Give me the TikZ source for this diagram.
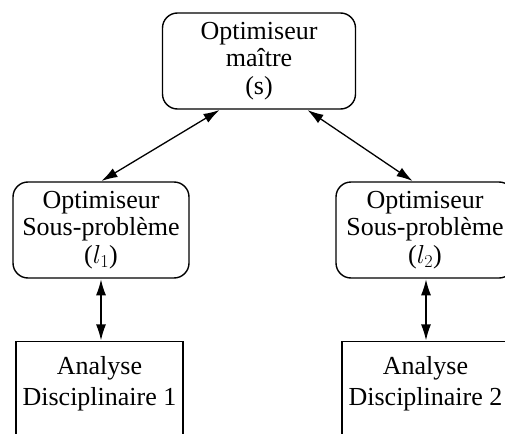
\RequirePackage{fix-cm}
\documentclass[tikz,border=0pt]{standalone}
\usepackage{fontspec}
\setmainfont{Liberation Serif}
\usetikzlibrary{arrows.meta}
\tikzset{
  optbox/.style={draw, line width=1.4pt, rounded corners=15pt, align=center, inner sep=0pt},
  anabox/.style={draw, line width=1.4pt, inner sep=0pt},
  txt/.style={align=center, inner sep=0pt},
  biarrow/.style={line width=1.3pt, {Latex[length=16pt,width=10pt]}-{Latex[length=16pt,width=10pt]}, shorten <=0.6pt, shorten >=0.6pt},
}
\begin{document}
\begin{tikzpicture}[x=1pt,y=-1pt, font=\fontsize{26}{27.5}\selectfont]
\useasboundingbox (0,0) rectangle (505,433);
\clip (0,0) rectangle (505,433);
\node[optbox, minimum width=193pt, minimum height=96pt] (top) at (259,61) {Optimiseur\\maître\\(s)};
\node[optbox, minimum width=176pt, minimum height=96pt] (m1) at (101,230) {Optimiseur\\Sous-problème\\($l_1$)};
\node[optbox, minimum width=178pt, minimum height=96pt] (m2) at (425,230) {Optimiseur\\Sous-problème\\($l_2$)};
\node[anabox, minimum width=167pt, minimum height=120pt, anchor=north] (a1) at (99.5,341) {};
\node[anabox, minimum width=167pt, minimum height=120pt, anchor=north] (a2) at (425.5,341) {};
\node[txt, anchor=north] (a1t) at ([yshift=-15pt]a1.north) {Analyse\\[3.5pt]Disciplinaire 1};
\node[txt, anchor=north] (a2t) at ([yshift=-15pt]a2.north) {Analyse\\[3.5pt]Disciplinaire 2};
\draw[biarrow] (m1.north) -- ([xshift=-39pt]top.south);
\draw[biarrow] ([xshift=48pt]top.south) -- ([xshift=-12pt]m2.north);
\draw[biarrow] (m1.south) -- (m1.south |- a1.north);
\draw[biarrow] ([xshift=1pt]m2.south) -- ([xshift=1pt]m2.south |- a2.north);
\end{tikzpicture}
\end{document}
